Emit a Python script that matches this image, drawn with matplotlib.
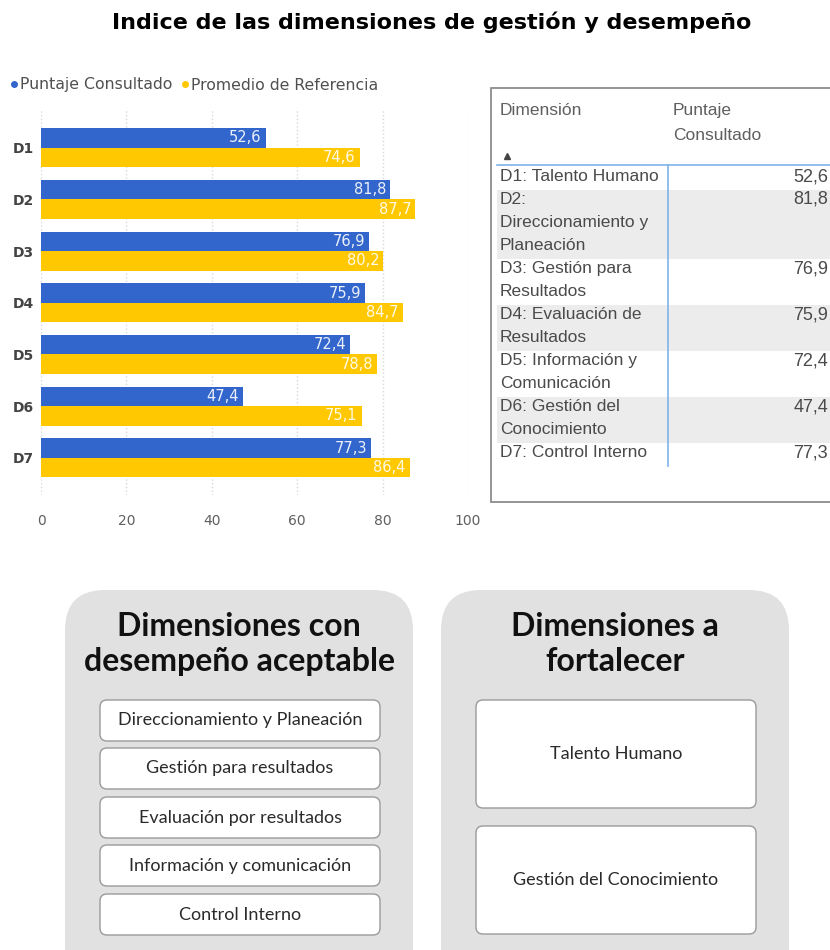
import textwrap
import numpy as np
import matplotlib.pyplot as plt
from matplotlib.lines import Line2D
from matplotlib.patches import FancyBboxPatch, Rectangle

dims = ['D1', 'D2', 'D3', 'D4', 'D5', 'D6', 'D7']
dim_names = ['Talento Humano', 'Direccionamiento y Planeación', 'Gestión para Resultados',
             'Evaluación de Resultados', 'Información y Comunicación',
             'Gestión del Conocimiento', 'Control Interno']
puntaje = [52.6, 81.8, 76.9, 75.9, 72.4, 47.4, 77.3]
promedio = [74.6, 87.7, 80.2, 84.7, 78.8, 75.1, 86.4]
x_ticks = [0, 20, 40, 60, 80, 100]
aceptables = ['Direccionamiento y Planeación', 'Gestión para resultados',
              'Evaluación por resultados', 'Información y comunicación', 'Control Interno']
fortalecer = ['Talento Humano', 'Gestión del Conocimiento']

BLUE = '#3366cc'
YELLOW = '#ffc800'
GRAY_TXT = '#5f5f5f'


def fmt(v):
    return ('%.1f' % v).replace('.', ',')


W, H = 830, 950
fig = plt.figure(figsize=(W / 100, H / 100), dpi=100)
fig.patch.set_facecolor('white')

# bar chart
ax = fig.add_axes([41 / W, 1 - 495 / H, 427 / W, 385 / H])
y = np.arange(len(dims))
bh = 0.377
ax.barh(y - bh / 2, puntaje, height=bh, color=BLUE, zorder=2)
ax.barh(y + bh / 2, promedio, height=bh, color=YELLOW, zorder=2)
for yi, v in zip(y, puntaje):
    ax.annotate(fmt(v), (v, yi - bh / 2), xytext=(-3, 0), textcoords='offset points',
                ha='right', va='center', color='white', fontsize=10.5, alpha=0.9)
for yi, v in zip(y, promedio):
    ax.annotate(fmt(v), (v, yi + bh / 2), xytext=(-3, 0), textcoords='offset points',
                ha='right', va='center', color='white', fontsize=10.5, alpha=0.9)
ax.set_xlim(0, 100)
ax.set_ylim(6.72, -0.73)
ax.set_xticks(x_ticks)
ax.set_yticks(y)
ax.set_yticklabels(dims, fontsize=10, color='#444444', fontweight='bold')
ax.tick_params(axis='x', labelsize=10, labelcolor=GRAY_TXT, length=0, pad=14)
ax.tick_params(axis='y', length=0, pad=5)
ax.grid(axis='x', linestyle=':', color='#d8d8d8', linewidth=1, zorder=0)
for s in ax.spines.values():
    s.set_visible(False)

handles = [Line2D([], [], marker='o', linestyle='', color=BLUE, markersize=4),
           Line2D([], [], marker='o', linestyle='', color=YELLOW, markersize=4)]
fig.legend(handles, ['Puntaje Consultado', 'Promedio de Referencia'], loc='center left',
           bbox_to_anchor=(9 / W, 1 - 85 / H), ncol=2, frameon=False, handlelength=0.6,
           handletextpad=0.1, columnspacing=0.5, borderaxespad=0, borderpad=0,
           prop={'size': 11.3}, labelcolor='#505050')

fig.text(0.52, 1 - 22 / H, 'Indice de las dimensiones de gestión y desempeño',
         ha='center', va='center', fontsize=16, fontweight='bold', family='DejaVu Sans')

# overlay in pixel coordinates for table and panels
ov = fig.add_axes([0, 0, 1, 1], zorder=-1)
ov.set_xlim(0, W)
ov.set_ylim(H, 0)
ov.axis('off')

# table
ov.add_patch(Rectangle((491, 88), 360, 414, facecolor='white', edgecolor='#8c8c8c', lw=1.3))
ov.text(500, 103, 'Dimensión', ha='left', va='top', fontsize=12.5, color=GRAY_TXT,
        family='Liberation Sans')
ov.text(673, 103, 'Puntaje', ha='left', va='top', fontsize=12.5, color=GRAY_TXT,
        family='Liberation Sans')
ov.text(673, 128, 'Consultado', ha='left', va='top', fontsize=12.5, color=GRAY_TXT,
        family='Liberation Sans')
ov.plot([507], [156], marker='^', color='#444444', markersize=5)
line_h = 23
top = 167
for i, (d, n) in enumerate(zip(dims, dim_names)):
    lines = textwrap.wrap('%s: %s' % (d, n), 19)
    rh = line_h * len(lines)
    if i % 2 == 1:
        ov.add_patch(Rectangle((497, top), 340, rh, facecolor='#ececec', edgecolor='none'))
    for k, ln in enumerate(lines):
        ov.text(500, top + 2 + k * line_h, ln, ha='left', va='top', fontsize=12.5,
                color='#4a4a4a', family='Liberation Sans')
    ov.text(828, top + 1, fmt(puntaje[i]), ha='right', va='top', fontsize=13,
            color='#4a4a4a', family='Liberation Sans')
    top += rh
ov.plot([497, 835], [165, 165], color='#7fb3ea', lw=1.2)
ov.plot([668, 668], [165, top], color='#7fb3ea', lw=1.2)


# bottom panels
def panel(x0, title, items, box_tops, box_h):
    ov.add_patch(FancyBboxPatch((x0, 590), 348, 420, boxstyle='round,pad=0,rounding_size=40',
                                facecolor='#e1e1e1', edgecolor='none'))
    ov.text(x0 + 174, 644, title, ha='center', va='center', fontsize=23, fontweight='bold',
            family='Lato', color='#111111', linespacing=1.27)
    for t, bt in zip(items, box_tops):
        ov.add_patch(FancyBboxPatch((x0 + 35, bt), 280, box_h,
                                    boxstyle='round,pad=0,rounding_size=7',
                                    facecolor='white', edgecolor='#9a9a9a', lw=1))
        ov.text(x0 + 175, bt + box_h / 2, t, ha='center', va='center', fontsize=13,
                family='Lato', color='#2a2a2a')


panel(65, 'Dimensiones con\ndesempeño aceptable', aceptables, [700, 748, 797, 845, 894], 41)
panel(441, 'Dimensiones a\nfortalecer', fortalecer, [700, 826], 108)

fig.savefig('out.png', dpi=100, facecolor='white')
